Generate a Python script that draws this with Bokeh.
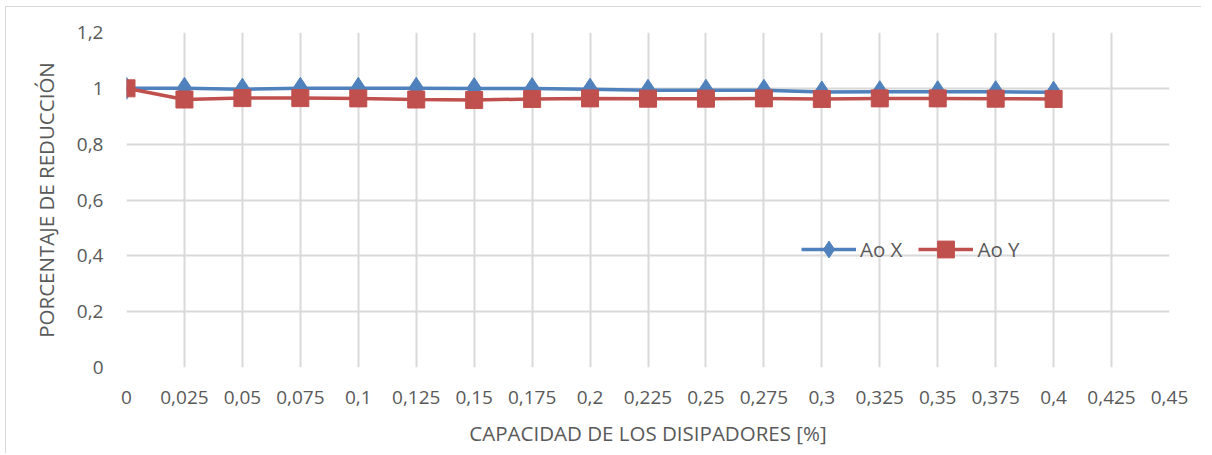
from bokeh.plotting import figure
from bokeh.models import ColumnDataSource, FixedTicker, CustomJSTickFormatter, Legend, LegendItem, Range1d
from bokeh.embed import file_html
from bokeh.resources import INLINE

capacidad = [0, 0.025, 0.05, 0.075, 0.1, 0.125, 0.15, 0.175, 0.2, 0.225, 0.25, 0.275, 0.3, 0.325, 0.35, 0.375, 0.4]
ao_x = [1.0, 1.0, 0.997, 1.0, 1.0, 1.0, 0.999, 0.999, 0.997, 0.993, 0.993, 0.993, 0.987, 0.988, 0.988, 0.988, 0.986]
ao_y = [1.0, 0.960, 0.965, 0.965, 0.964, 0.960, 0.958, 0.962, 0.964, 0.963, 0.963, 0.964, 0.962, 0.964, 0.964, 0.963, 0.962]
x_ticks = [i * 0.025 for i in range(19)]
y_ticks = [0, 0.2, 0.4, 0.6, 0.8, 1.0, 1.2]

FONT = "Open Sans"
TXT = "#595959"
GRID = "#D9D9D9"

p = figure(width=1196, height=447, output_backend="svg", toolbar_location=None,
           x_range=Range1d(0, 0.45), y_range=Range1d(0, 1.2),
           min_border_left=120, min_border_right=33, min_border_top=25, min_border_bottom=87)
p.styles = {"border-left": "1px solid #D9D9D9", "border-top": "1px solid #D9D9D9",
            "margin-left": "5px", "margin-top": "6px"}
p.outline_line_color = None

fmt = CustomJSTickFormatter(code="""
var s = (Math.round(tick*1000)/1000).toString();
return s.replace('.', ',');
""")

p.xaxis.ticker = FixedTicker(ticks=x_ticks)
p.yaxis.ticker = FixedTicker(ticks=y_ticks)
p.xaxis.formatter = fmt
p.yaxis.formatter = fmt
for ax in (p.xaxis, p.yaxis):
    ax.axis_line_color = None
    ax.major_tick_line_color = None
    ax.minor_tick_line_color = None
    ax.major_label_text_font = FONT
    ax.major_label_text_font_size = "19px"
    ax.major_label_text_color = TXT
    ax.axis_label_text_font = FONT
    ax.axis_label_text_font_size = "20.5px"
    ax.axis_label_text_color = TXT
    ax.axis_label_text_font_style = "normal"
p.xaxis.major_label_standoff = 17
p.yaxis.major_label_standoff = 17
p.xaxis.axis_label = "CAPACIDAD DE LOS DISIPADORES [%]"
p.yaxis.axis_label = "PORCENTAJE DE REDUCCIÓN"
p.xaxis.axis_label_standoff = 12
p.yaxis.axis_label_standoff = 14

p.xgrid.grid_line_color = GRID
p.ygrid.grid_line_color = GRID
p.xgrid.grid_line_width = 2
p.ygrid.grid_line_width = 2

src = ColumnDataSource(dict(x=capacidad, ax=ao_x, ay=ao_y))
BLUE = "#4F81BD"
RED = "#C0504D"
lx = p.line("x", "ax", source=src, line_color=BLUE, line_width=3.5)
mx = p.scatter("x", "ax", source=src, marker="diamond", size=22, fill_color=BLUE, line_color=BLUE)
ly = p.line("x", "ay", source=src, line_color=RED, line_width=3.5)
my = p.scatter("x", "ay", source=src, marker="square", size=17, fill_color=RED, line_color=RED)

legend = Legend(items=[LegendItem(label="Ao X", renderers=[lx, mx]),
                       LegendItem(label="Ao Y", renderers=[ly, my])],
                orientation="horizontal", location=(675, 97),
                background_fill_alpha=0, border_line_alpha=0,
                label_text_font=FONT, label_text_font_size="20.5px", label_text_color=TXT,
                glyph_width=55, glyph_height=42, label_height=42, label_standoff=4, spacing=16,
                padding=0, margin=0)
p.add_layout(legend, "center")

open("out.html", "w").write(file_html(p, INLINE))
